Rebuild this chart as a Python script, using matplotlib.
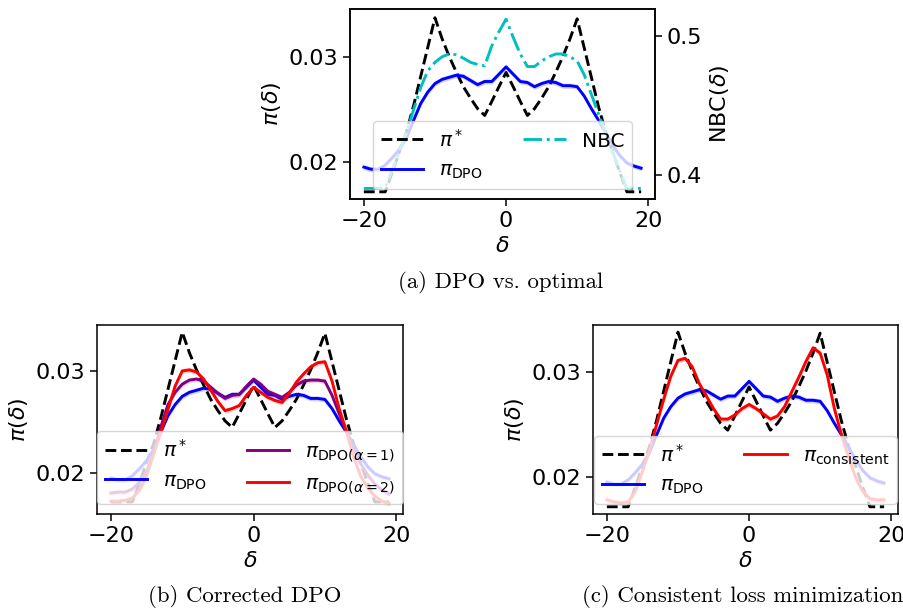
import matplotlib
matplotlib.use('Agg')
import matplotlib.pyplot as plt
import numpy as np

# delta grid
delta = np.arange(-20, 20)

pi_star = [0.01714, 0.01714, 0.01714, 0.01714, 0.0190, 0.0210, 0.0229, 0.0254, 0.0282, 0.0310,
           0.0338, 0.0318, 0.0301, 0.0286, 0.0272, 0.0261, 0.0251, 0.02445, 0.0258, 0.0272,
           0.02857, 0.0272, 0.0258, 0.02445, 0.0251, 0.0261, 0.0272, 0.0286, 0.0301, 0.0318,
           0.0337, 0.0309, 0.0281, 0.0253, 0.0229, 0.0210, 0.0190, 0.01714, 0.01714, 0.01714]

pi_dpo = [0.0195, 0.0193, 0.0193, 0.0197, 0.0204, 0.0212, 0.0223, 0.0240, 0.0256, 0.0267,
          0.0275, 0.0279, 0.0281, 0.0283, 0.0282, 0.0278, 0.0274, 0.0277, 0.0277, 0.0284,
          0.0291, 0.0284, 0.0277, 0.0276, 0.0272, 0.0275, 0.0277, 0.0276, 0.0273, 0.0273,
          0.0272, 0.0263, 0.0251, 0.0240, 0.0228, 0.0216, 0.0206, 0.0199, 0.0196, 0.0194]

nbc = [0.3905, 0.3905, 0.3905, 0.3910, 0.404, 0.4166, 0.431, 0.447, 0.463, 0.475,
       0.481, 0.485, 0.487, 0.4865, 0.484, 0.481, 0.4795, 0.4785, 0.493, 0.503,
       0.512, 0.499, 0.487, 0.478, 0.478, 0.482, 0.485, 0.487, 0.487, 0.485,
       0.482, 0.472, 0.458, 0.444, 0.430, 0.4165, 0.403, 0.3905, 0.3905, 0.3905]

pi_alpha1 = [0.0180, 0.0181, 0.0181, 0.0184, 0.0191, 0.0201, 0.0219, 0.0245, 0.0267, 0.0279,
             0.0287, 0.0291, 0.0292, 0.0290, 0.0284, 0.0278, 0.0273, 0.0276, 0.0277, 0.0285,
             0.0292, 0.0287, 0.0280, 0.0277, 0.0274, 0.0279, 0.0286, 0.0290, 0.0291, 0.0291,
             0.0290, 0.0276, 0.0258, 0.0241, 0.0224, 0.0209, 0.0198, 0.0189, 0.0183, 0.0179]

pi_alpha2 = [0.0172, 0.0172, 0.0173, 0.0175, 0.0183, 0.0197, 0.0219, 0.0240, 0.0262, 0.0285,
             0.0300, 0.0301, 0.0299, 0.0292, 0.0281, 0.0270, 0.0261, 0.0263, 0.0266, 0.0276,
             0.0284, 0.0279, 0.0274, 0.0271, 0.0269, 0.0278, 0.0289, 0.0297, 0.0304, 0.0308,
             0.0309, 0.0290, 0.0263, 0.0241, 0.0216, 0.0197, 0.0185, 0.0177, 0.0172, 0.0170]

pi_consistent = [0.0178, 0.0176, 0.0175, 0.0176, 0.0186, 0.0205, 0.0225, 0.0250, 0.0274, 0.0296,
                 0.0311, 0.0313, 0.0305, 0.0289, 0.0277, 0.0265, 0.0255, 0.0255, 0.0259, 0.0265,
                 0.0269, 0.0265, 0.0260, 0.0255, 0.0258, 0.0267, 0.0281, 0.0295, 0.0310, 0.0323,
                 0.0318, 0.0297, 0.0265, 0.0240, 0.0219, 0.0199, 0.0186, 0.0179, 0.0178, 0.0178]

band = 0.00025  # half width of the shaded spread

captions = ['(a) DPO vs. optimal', '(b) Corrected DPO', '(c) Consistent loss minimization']

plt.rcParams['font.size'] = 16
plt.rcParams['legend.fontsize'] = 14.5
plt.rcParams['legend.handlelength'] = 2.1
plt.rcParams['lines.linewidth'] = 2.1
plt.rcParams['axes.linewidth'] = 1.1
for a in ('xtick', 'ytick'):
    plt.rcParams[a + '.major.size'] = 4.8
    plt.rcParams[a + '.major.width'] = 1.1

W, H = 904, 609
fig = plt.figure(figsize=(W / 100, H / 100), dpi=100)


def box(l, r, t, b):
    return [l / W, 1 - b / H, (r - l) / W, (b - t) / H]


def dpo_line(ax, y, color, label, z=2):
    y = np.array(y)
    ax.fill_between(delta, y - band, y + band, color=color, alpha=0.18, lw=0, zorder=z)
    return ax.plot(delta, y, color=color, label=label, zorder=z)[0]


def common(ax):
    ax.set_xticks([-20, 0, 20])
    ax.set_yticks([0.02, 0.03])
    ax.set_xlabel(r'$\delta$')
    ax.set_ylabel(r'$\pi(\delta)$')


# (a)
ax = fig.add_axes(box(350, 655, 9, 199))
ax2 = ax.twinx()
h1, = ax.plot(delta, pi_star, 'k--', label=r'$\pi^*$')
h2 = dpo_line(ax, pi_dpo, 'b', r'$\pi_{\rm DPO}$')
h3, = ax2.plot(delta, nbc, 'c-.', label='NBC')
common(ax)
ax.set_ylim(0.01645, 0.03464)
ax2.set_ylim(0.3829, 0.5193)
ax2.set_yticks([0.4, 0.5])
ax2.set_ylabel(r'NBC$(\delta)$')
ax2.legend([h1, h2, h3], [h.get_label() for h in (h1, h2, h3)], ncol=2, loc='lower center')

# (b)
ax = fig.add_axes(box(97, 403, 325, 514))
ax.plot(delta, pi_star, 'k--', label=r'$\pi^*$')
dpo_line(ax, pi_dpo, 'b', r'$\pi_{\rm DPO}$')
dpo_line(ax, pi_alpha1, 'purple', r'$\pi_{\mathrm{DPO}(\alpha=1)}$')
dpo_line(ax, pi_alpha2, 'r', r'$\pi_{\mathrm{DPO}(\alpha=2)}$')
common(ax)
ax.set_ylim(0.01595, 0.03451)
ax.legend(ncol=2, loc='lower center')

# (c)
ax = fig.add_axes(box(593, 898, 325, 514))
ax.plot(delta, pi_star, 'k--', label=r'$\pi^*$')
dpo_line(ax, pi_dpo, 'b', r'$\pi_{\rm DPO}$')
dpo_line(ax, pi_consistent, 'r', r'$\pi_{\rm consistent}$')
common(ax)
ax.set_ylim(0.01645, 0.03448)
ax.legend(ncol=2, loc='lower center')

# captions
for (cx, cy), txt in zip([(501, 283), (245, 597), (743, 597)], captions):
    fig.text(cx / W, 1 - cy / H, txt, ha='center', va='center', fontfamily='cmr10', fontsize=16.4)

fig.savefig('out.png', dpi=100)
